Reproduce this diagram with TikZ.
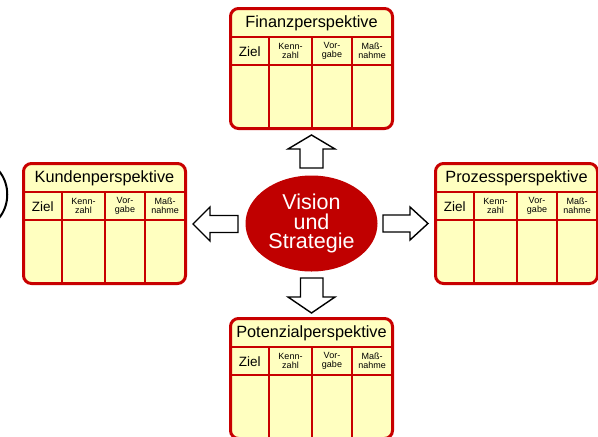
\documentclass[tikz,border=0pt]{standalone}
\usepackage{fontspec}
\setmainfont{Liberation Sans}
\usetikzlibrary{shapes.geometric}
\definecolor{boxred}{RGB}{200,0,0}
\definecolor{boxfill}{RGB}{255,255,192}
\definecolor{visred}{RGB}{192,0,0}
\tikzset{
  outerbox/.style={shape=rectangle, draw=boxred, line width=3pt, fill=boxfill,
    rounded corners=8pt, minimum width=162pt, minimum height=120pt, inner sep=0pt},
  innerline/.style={draw=boxred, line width=2.2pt},
  titletext/.style={inner sep=0pt, font=\fontsize{16.3}{18}\selectfont},
  zieltext/.style={inner sep=0pt, font=\fontsize{13.5}{15}\selectfont},
  smalltext/.style={inner sep=0pt, align=center, font=\fontsize{9}{8.7}\selectfont},
  blockarrow/.style={draw=black, fill=white, line width=1.4pt, line join=miter},
}
\newcommand\perspbox[4]{%
\begin{scope}[shift={(#2,#3)}]
  \node[outerbox] (#1) at (82.5,61.5) {};
  \draw[innerline] (1.5,30) -- (163.5,30) (1.5,58) -- (163.5,58)
    (40,30) -- (40,121.5) (83,30) -- (83,121.5) (123,30) -- (123,121.5);
  \node[titletext] (#1-title) at (82.5,16) {#4};
  \node[zieltext] (#1-ziel) at (20.75,44.5) {Ziel};
  \node[smalltext] (#1-kenn) at (61.5,44) {Kenn-\\zahl};
  \node[smalltext] (#1-vor) at (103,44) {Vor-\\gabe};
  \node[smalltext] (#1-mass) at (143.2,44) {Maß-\\nahme};
\end{scope}}
\begin{document}
\begin{tikzpicture}[x=1pt,y=-1pt]
\useasboundingbox (0,0) rectangle (598,437);
% partial arc at the left edge
\draw[line width=2pt] (-1,171) .. controls (10,184) and (10,205) .. (-1,218);
% boxes
\perspbox{finanz}{229}{7}{Finanzperspektive}
\perspbox{kunden}{22}{162}{Kundenperspektive}
\perspbox{prozess}{434}{162}{Prozessperspektive}
\perspbox{potenzial}{229}{317}{Potenzialperspektive}
% centre
\node[ellipse, fill=visred, minimum width=132pt, minimum height=96pt, inner sep=0pt,
  text=white, align=center, font=\fontsize{21.5}{19.5}\selectfont]
  (vision) at (311.5,223.5) {Vision\\und\\Strategie};
% block arrows
\draw[blockarrow] (300,168) -- (300,149) -- (288,149) -- (311.5,135) -- (335,149)
  -- (323,149) -- (323,168) -- cycle;
\draw[blockarrow] (300.5,278) -- (300.5,297) -- (288,297) -- (311.5,313) -- (335,297)
  -- (323,297) -- (323,278) -- cycle;
\draw[blockarrow] (238,215.5) -- (210,215.5) -- (210,207) -- (193,224) -- (210,241)
  -- (210,232.5) -- (238,232.5) -- cycle;
\draw[blockarrow] (383,215) -- (410,215) -- (410,207) -- (428,223.5) -- (410,240)
  -- (410,232) -- (383,232) -- cycle;
\end{tikzpicture}
\end{document}
